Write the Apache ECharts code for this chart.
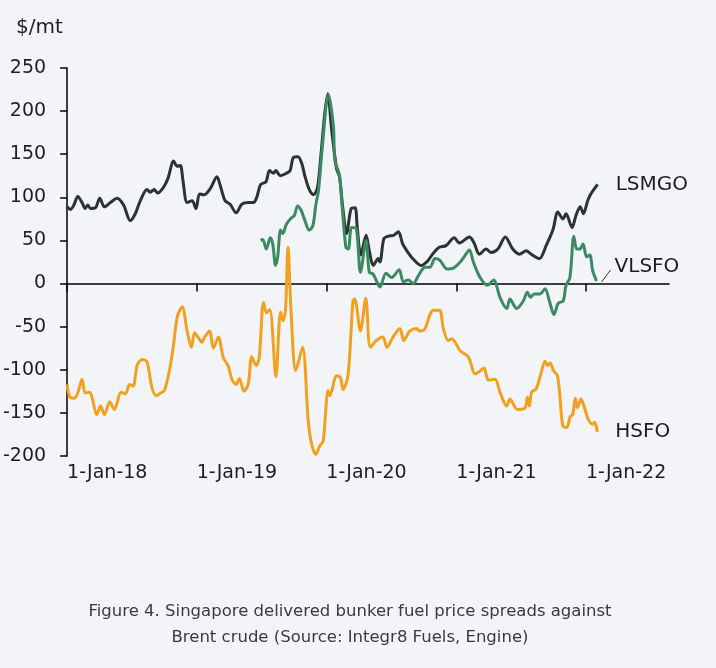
<!DOCTYPE html>
<html>
<head>
<meta charset="utf-8">
<script src="https://cdn.jsdelivr.net/npm/echarts@6/dist/echarts.min.js"></script>
<style>
html,body{margin:0;padding:0;background:#f2f4f8;}
#chart{width:716px;height:668px;}
</style>
</head>
<body>
<div id="chart"></div>
<script>
// ---- Data ----
const yearTicks = ['2018-01-01','2019-01-01','2020-01-01','2021-01-01','2022-01-01'];
const axisStart = '2018-01-01';
const axisEnd = '2022-08-23';

const lsmgoDates = ['2018-01-01','2018-01-10','2018-01-20','2018-01-31','2018-02-12','2018-02-21','2018-02-28','2018-03-08','2018-03-22','2018-04-03','2018-04-16','2018-05-03','2018-05-22','2018-06-09','2018-06-28','2018-07-12','2018-07-26','2018-08-14','2018-08-23','2018-09-03','2018-09-13','2018-09-30','2018-10-12','2018-10-28','2018-11-07','2018-11-16','2018-11-23','2018-12-05','2018-12-19','2018-12-30',
'2019-01-09','2019-01-22','2019-02-08','2019-02-27','2019-03-08','2019-03-22','2019-04-05','2019-04-22','2019-05-08','2019-05-27','2019-06-10','2019-06-19','2019-06-30','2019-07-15','2019-07-25','2019-08-05','2019-08-12','2019-08-24','2019-09-11','2019-09-21','2019-09-30','2019-10-13','2019-10-24','2019-11-02','2019-11-15','2019-11-26','2019-12-07','2019-12-17','2019-12-27',
'2020-01-05','2020-01-16','2020-01-30','2020-02-07','2020-02-16','2020-02-27','2020-03-11','2020-03-22','2020-03-28','2020-04-07','2020-04-22','2020-05-01','2020-05-12','2020-05-26','2020-05-31','2020-06-11','2020-06-24','2020-07-08','2020-07-22','2020-08-03','2020-08-18','2020-08-31','2020-09-24','2020-10-12','2020-10-26','2020-11-14','2020-12-03','2020-12-26',
'2021-01-10','2021-02-07','2021-02-20','2021-03-07','2021-03-26','2021-04-09','2021-04-28','2021-05-19','2021-06-09','2021-06-28','2021-07-17','2021-07-31','2021-08-23','2021-09-11','2021-09-30','2021-10-14','2021-10-28','2021-11-06','2021-11-23','2021-12-04','2021-12-16','2021-12-25',
'2022-01-06','2022-01-15','2022-02-03'];
const lsmgoValues = [89,86,91,101,94,87,91,87,88,99,89,94,99,91,73,81,96,109,106,109,105,112,122,142,136,137,120,94,96,87,
104,103,110,124,114,96,92,82,92,94,94,100,115,118,131,128,131,125,128,131,146,147,139,124,108,103,111,150,195,
220,178,133,124,89,58,87,88,65,33,56,38,21,29,25,52,55,56,60,46,36,29,21,26,34,42,44,53,
47,54,47,34,40,36,40,54,40,34,38,34,29,44,62,83,75,81,65,79,89,81,
96,104,115];

const vlsfoDates = ['2019-06-30','2019-07-06','2019-07-16','2019-07-27','2019-08-03','2019-08-11','2019-08-17','2019-08-25','2019-08-31','2019-09-11','2019-09-24','2019-10-03','2019-10-12','2019-10-22','2019-10-31','2019-11-14','2019-11-24','2019-12-03','2019-12-10','2019-12-20',
'2020-01-07','2020-01-21','2020-01-25','2020-02-07','2020-02-13','2020-02-25','2020-03-03','2020-03-12','2020-03-25','2020-04-06','2020-04-22','2020-05-01','2020-05-12','2020-05-31','2020-06-17','2020-07-03','2020-07-24','2020-08-05','2020-08-19','2020-09-02','2020-09-16','2020-10-05','2020-10-19','2020-11-02','2020-11-16','2020-12-05','2020-12-24',
'2021-01-12','2021-01-23','2021-02-07','2021-02-18','2021-03-09','2021-03-30','2021-04-16','2021-05-04','2021-05-23','2021-06-01','2021-06-20','2021-07-09','2021-07-20','2021-07-29','2021-08-08','2021-08-25','2021-09-08','2021-09-20','2021-10-03','2021-10-15','2021-10-29','2021-11-06','2021-11-17','2021-11-28','2021-12-06','2021-12-15','2021-12-24',
'2022-01-03','2022-01-12','2022-01-20','2022-01-31'];
const vlsfoValues = [50,51,40,53,46,21,31,62,58,69,76,79,90,85,75,62,67,93,108,155,
219,182,143,126,97,42,40,65,64,13,50,13,11,-4,12,7,16,2,4,0,9,19,19,29,27,17,18,
25,31,39,25,7,-2,4,-16,-29,-18,-29,-20,-10,-16,-12,-12,-6,-20,-36,-23,-20,-2,7,55,40,40,46,
31,33,15,3];

const hsfoDates = ['2018-01-01','2018-01-08','2018-01-22','2018-02-02','2018-02-12','2018-02-21','2018-03-05','2018-03-26','2018-04-05','2018-04-16','2018-05-01','2018-05-14','2018-06-02','2018-06-14','2018-06-26','2018-07-06','2018-07-17','2018-07-31','2018-08-14','2018-08-28','2018-09-09','2018-09-21','2018-10-02','2018-10-17','2018-10-28','2018-11-07','2018-11-21','2018-12-05','2018-12-17','2018-12-26',
'2019-01-06','2019-01-15','2019-01-25','2019-02-06','2019-02-17','2019-03-03','2019-03-17','2019-03-31','2019-04-10','2019-04-22','2019-05-01','2019-05-14','2019-05-26','2019-06-05','2019-06-17','2019-06-26','2019-07-08','2019-07-17','2019-07-26','2019-08-12','2019-08-25','2019-09-01','2019-09-08','2019-09-15','2019-09-24','2019-10-07','2019-10-26','2019-11-11','2019-11-20','2019-12-02','2019-12-14','2019-12-23',
'2020-01-06','2020-01-11','2020-01-30','2020-02-10','2020-02-17','2020-03-02','2020-03-16','2020-03-21','2020-04-06','2020-04-21','2020-05-04','2020-05-21','2020-06-08','2020-06-20','2020-07-07','2020-07-26','2020-08-06','2020-08-23','2020-09-11','2020-09-20','2020-10-04','2020-10-18','2020-10-28','2020-11-15','2020-11-25','2020-12-09','2020-12-19',
'2021-01-12','2021-02-04','2021-02-23','2021-03-04','2021-03-20','2021-04-01','2021-04-20','2021-05-04','2021-05-23','2021-06-01','2021-06-22','2021-07-14','2021-07-20','2021-07-26','2021-08-01','2021-08-14','2021-08-27','2021-09-08','2021-09-15','2021-09-22','2021-10-02','2021-10-13','2021-10-20','2021-10-28','2021-11-08','2021-11-18','2021-11-25','2021-12-02','2021-12-08','2021-12-18','2021-12-25',
'2022-01-07','2022-01-20','2022-01-26','2022-02-02'];
const hsfoValues = [-117,-131,-133,-124,-111,-127,-126,-152,-142,-152,-137,-146,-126,-128,-117,-119,-95,-88,-91,-121,-130,-127,-124,-99,-70,-39,-27,-55,-74,-57,
-63,-68,-61,-55,-75,-62,-86,-96,-111,-117,-110,-125,-117,-85,-95,-86,-22,-34,-30,-108,-33,-43,-31,42,-35,-101,-74,-159,-185,-198,-188,-183,
-124,-130,-107,-109,-123,-107,-20,-18,-55,-17,-74,-66,-62,-74,-62,-52,-66,-55,-52,-55,-53,-37,-31,-31,-51,-66,-64,
-78,-85,-105,-103,-98,-112,-111,-126,-142,-134,-146,-144,-132,-142,-126,-122,-105,-90,-95,-92,-101,-107,-132,-165,-167,-154,-152,-133,-144,-134,-140,
-157,-163,-161,-172];

const seriesNames = ['LSMGO','VLSFO','HSFO'];
const yTicks = {min:-200, max:250, step:50};
const unitLabel = '$/mt';
const caption = 'Figure 4. Singapore delivered bunker fuel price spreads against\nBrent crude (Source: Integr8 Fuels, Engine)';

// ---- Chart ----
const FONT = 'DejaVu Sans';
const ts = s => Date.parse(s + 'T00:00:00Z');
const pair = (d, v) => d.map((x, i) => [ts(x), v[i]]);
const tickTimes = yearTicks.map(ts);
const fmt = v => { const d = new Date(v); return '1-Jan-' + String(d.getUTCFullYear()).slice(2); };

const chart = echarts.init(document.getElementById('chart'), null, {renderer:'canvas'});
const lineBase = (name, color, vals, dates, labelOffset) => ({
  name, type:'line', xAxisIndex:0, yAxisIndex:0,
  data: pair(dates, vals), showSymbol:false, symbol:'none',
  smooth:0.3, lineStyle:{color, width:3}, itemStyle:{color},
  emphasis:{disabled:true},
  endLabel:{show:true, formatter:name, color:'#1e1e1e', fontFamily:FONT, fontSize:20, distance:18, offset:labelOffset}
});

const option = {
  backgroundColor:'#f2f4f8',
  animation:false,
  textStyle:{fontFamily:FONT},
  title:{text:unitLabel, left:11, top:13, textStyle:{fontFamily:FONT, fontSize:20, fontWeight:'normal', color:'#1e1e1e'}},
  grid:{left:67, right:47, top:68, bottom:212, containLabel:false},
  xAxis:[{
    type:'value', min:ts(axisStart), max:ts(axisEnd), position:'bottom',
    axisLine:{show:true, onZero:true, lineStyle:{color:'#000', width:1.5}},
    axisTick:{show:true, inside:false, length:8, customValues:tickTimes, lineStyle:{color:'#000', width:1.5}},
    axisLabel:{show:false},
    splitLine:{show:false}
  },{
    type:'value', min:ts(axisStart), max:ts(axisEnd), position:'bottom',
    axisLine:{show:false, onZero:false}, axisTick:{show:false}, splitLine:{show:false},
    axisLabel:{show:true, customValues:tickTimes, formatter:fmt, align:'left', margin:8,
      color:'#1e1e1e', fontFamily:FONT, fontSize:19, hideOverlap:false}
  }],
  yAxis:{
    type:'value', min:yTicks.min, max:yTicks.max, interval:yTicks.step,
    axisLine:{show:true, onZero:false, lineStyle:{color:'#000', width:1.5}},
    axisTick:{show:true, inside:false, length:7, lineStyle:{color:'#000', width:1.5}},
    axisLabel:{color:'#1e1e1e', fontFamily:FONT, fontSize:19, margin:21},
    splitLine:{show:false}
  },
  series:[
    lineBase(seriesNames[0], '#2b3431', lsmgoValues, lsmgoDates, [0,0]),
    lineBase(seriesNames[1], '#3b8a63', vlsfoValues, vlsfoDates, [0,-14]),
    lineBase(seriesNames[2], '#f2a01d', hsfoValues, hsfoDates, [0,0])
  ],
  graphic:[{
    type:'text', x:350, y:599,
    style:{text:caption, fill:'#3a3a3a', font:'16.5px "DejaVu Sans"', textAlign:'center', textVerticalAlign:'top', lineHeight:26}
  }]
};
chart.setOption(option);

// leader line from VLSFO end to its label
const last = vlsfoDates.length - 1;
const p = chart.convertToPixel({xAxisIndex:0, yAxisIndex:0}, [ts(vlsfoDates[last]), vlsfoValues[last]]);
chart.setOption({graphic:[option.graphic[0], {
  type:'line', shape:{x1:p[0]+5, y1:p[1]+1, x2:p[0]+14, y2:p[1]-11},
  style:{stroke:'#333', lineWidth:1}
}]});
</script>
</body>
</html>
